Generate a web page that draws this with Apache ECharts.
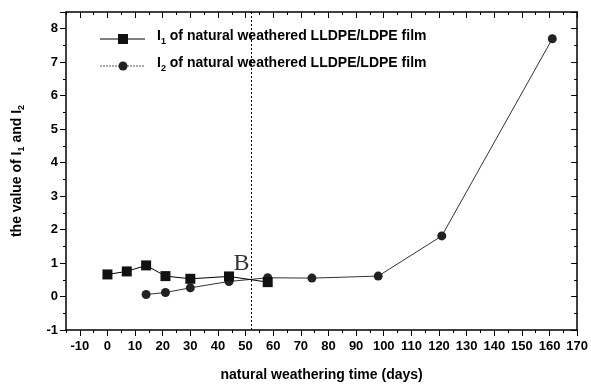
<!DOCTYPE html>
<html><head><meta charset="utf-8">
<script src="https://cdn.jsdelivr.net/npm/echarts@6/dist/echarts.min.js"></script>
<style>html,body{margin:0;padding:0;background:#fff}#c{width:591px;height:387px}</style>
</head><body><div id="c"></div>
<script>
const days1 = [0, 7, 14, 21, 30, 44, 58];
const i1 = [0.66, 0.75, 0.93, 0.61, 0.53, 0.60, 0.43];
const days2 = [14, 21, 30, 44, 58, 74, 98, 121, 161];
const i2 = [0.06, 0.12, 0.26, 0.45, 0.56, 0.55, 0.61, 1.81, 7.70];
const markerX = 52;
const labelB = {x: 48.5, y: 0.98, text: 'B'};
const xLabelValues = [-10, 0, 10, 20, 30, 40, 50, 60, 70, 80, 90, 100, 110, 120, 130, 140, 150, 160, 170];
const xRange = {min: -15, max: 170, minorInterval: 5};
const yRange = {min: -1, max: 8.5, interval: 1};

const chart = echarts.init(document.getElementById('c'));
const font = '"Liberation Sans", Arial, sans-serif';
const line = {show: true, onZero: false, lineStyle: {color: '#000', width: 1.5}};
const noLine = {show: false, onZero: false};
const tickStyle = {color: '#000', width: 1};

chart.setOption({
  animation: false,
  grid: {left: 66, right: 12, top: 12, bottom: 57},
  xAxis: [
    {type: 'value', position: 'bottom', min: xRange.min, max: xRange.max, interval: xRange.minorInterval,
      axisLine: line, splitLine: {show: false},
      axisTick: {show: true, inside: false, length: 6, lineStyle: tickStyle, customValues: xLabelValues},
      axisLabel: {color: '#000', fontFamily: font, fontSize: 13, fontWeight: 'bold', margin: 10,
        customValues: xLabelValues, showMinLabel: true, showMaxLabel: true},
      name: 'natural weathering time (days)', nameLocation: 'middle', nameGap: 38,
      nameTextStyle: {color: '#000', fontFamily: font, fontSize: 14, fontWeight: 'bold'}},
    {type: 'value', position: 'bottom', min: xRange.min, max: xRange.max, interval: xRange.minorInterval,
      axisLine: noLine, splitLine: {show: false},
      axisTick: {show: true, inside: false, length: 3, lineStyle: tickStyle},
      axisLabel: {show: false}},
    {type: 'value', position: 'top', min: xRange.min, max: xRange.max, interval: xRange.minorInterval,
      axisLine: line, splitLine: {show: false},
      axisTick: {show: true, inside: true, length: 6, lineStyle: tickStyle, customValues: xLabelValues},
      axisLabel: {show: false}},
    {type: 'value', position: 'top', min: xRange.min, max: xRange.max, interval: xRange.minorInterval,
      axisLine: noLine, splitLine: {show: false},
      axisTick: {show: true, inside: true, length: 3, lineStyle: tickStyle},
      axisLabel: {show: false}}
  ],
  yAxis: [
    {type: 'value', position: 'left', min: yRange.min, max: yRange.max, interval: yRange.interval,
      axisLine: line, splitLine: {show: false},
      axisTick: {show: true, inside: false, length: 6, lineStyle: tickStyle},
      minorTick: {show: true, splitNumber: 2, length: 3, lineStyle: tickStyle},
      axisLabel: {color: '#000', fontFamily: font, fontSize: 13, fontWeight: 'bold', margin: 8,
        formatter: v => Number.isInteger(v) ? String(v) : ''},
      name: '{a|the value of I}{s|1}{a| and I}{s|2}', nameLocation: 'middle', nameGap: 40,
      nameTextStyle: {color: '#000', rich: {
        a: {fontFamily: font, fontSize: 14, fontWeight: 'bold', color: '#000'},
        s: {fontFamily: font, fontSize: 9, fontWeight: 'bold', color: '#000', padding: [8, 0, 0, 0]}}}},
    {type: 'value', position: 'right', min: yRange.min, max: yRange.max, interval: yRange.interval,
      axisLine: line, splitLine: {show: false},
      axisTick: {show: true, inside: true, length: 6, lineStyle: tickStyle},
      minorTick: {show: true, splitNumber: 2, length: 3, lineStyle: tickStyle},
      axisLabel: {show: false}}
  ],
  series: [
    {type: 'line', name: 'I1', xAxisIndex: 0, yAxisIndex: 0,
      data: days1.map((d, k) => [d, i1[k]]),
      symbol: 'rect', symbolSize: 10, z: 3,
      lineStyle: {color: '#000', width: 1}, itemStyle: {color: '#111'},
      markLine: {silent: true, symbol: 'none', label: {show: false},
        lineStyle: {color: '#000', type: [2, 2], width: 1},
        data: [{xAxis: markerX}]}},
    {type: 'line', name: 'I2', xAxisIndex: 0, yAxisIndex: 0,
      data: days2.map((d, k) => [d, i2[k]]),
      symbol: 'circle', symbolSize: 9, z: 2,
      lineStyle: {color: '#333', width: 1}, itemStyle: {color: '#222'}},
    {type: 'scatter', xAxisIndex: 0, yAxisIndex: 0, symbolSize: 0,
      data: [[labelB.x, labelB.y]],
      label: {show: true, formatter: labelB.text, position: 'inside',
        fontFamily: '"Liberation Serif", "Times New Roman", serif', fontSize: 24, color: '#000'}}
  ],
  graphic: [
    {type: 'line', shape: {x1: 100, y1: 39, x2: 145, y2: 39}, style: {stroke: '#000', lineWidth: 1}},
    {type: 'rect', shape: {x: 118, y: 34, width: 10, height: 10}, style: {fill: '#111'}},
    {type: 'text', left: 157, top: 29, style: {
      text: '{a|I}{s|1}{a| of natural weathered LLDPE/LDPE film}',
      rich: {a: {fontFamily: font, fontSize: 14, fontWeight: 'bold', fill: '#000'},
             s: {fontFamily: font, fontSize: 9, fontWeight: 'bold', fill: '#000', padding: [12, 0, 0, 0]}}}},
    {type: 'line', shape: {x1: 100, y1: 66, x2: 145, y2: 66}, style: {stroke: '#555', lineWidth: 1, lineDash: [2, 1]}},
    {type: 'circle', shape: {cx: 123, cy: 66, r: 4.5}, style: {fill: '#222'}},
    {type: 'text', left: 157, top: 56, style: {
      text: '{a|I}{s|2}{a| of natural weathered LLDPE/LDPE film}',
      rich: {a: {fontFamily: font, fontSize: 14, fontWeight: 'bold', fill: '#000'},
             s: {fontFamily: font, fontSize: 9, fontWeight: 'bold', fill: '#000', padding: [12, 0, 0, 0]}}}}
  ]
});
</script></body></html>
